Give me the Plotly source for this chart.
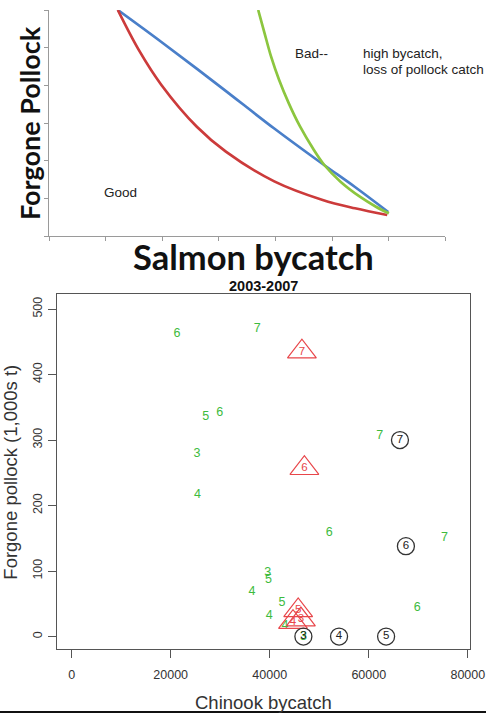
import plotly.graph_objects as go

# ---------------- data ----------------
# Conceptual trade-off curves (top panel), in arbitrary axis units
blue_x = [1.214, 1.984, 3.010, 3.978, 4.833, 5.404, 5.991]
blue_y = [6.0, 5.15, 3.98, 2.854, 1.911, 1.301, 0.637]

red_x = [1.214, 1.584, 1.984, 2.610, 3.123, 3.978, 4.833, 5.404, 5.974]
red_y = [6.0, 4.94, 4.01, 2.90, 2.24, 1.45, 0.956, 0.735, 0.557]

green_x = [3.694, 3.807, 3.922, 4.064, 4.235, 4.435, 4.662, 4.862, 5.148, 5.490, 5.774, 6.003]
green_y = [6.0, 5.381, 4.760, 4.142, 3.522, 2.902, 2.323, 1.885, 1.442, 1.044, 0.778, 0.603]

# 2003-2007 scenarios (bottom panel)
pts_green_x = [21300, 37500, 27100, 29900, 25300, 25400, 62200, 52000, 75300,
               39600, 39750, 36400, 42500, 39900, 69800, 43100, 46800]
pts_green_y = [462, 469, 336, 342, 279, 216, 307, 159, 151,
               97, 87, 68, 51, 32, 44, 17, 0]
pts_green_lab = ["6", "7", "5", "6", "3", "4", "7", "6", "7",
                 "3", "5", "4", "5", "4", "6", "4", "3"]

pts_red_x = [46500, 47000, 45750, 44700, 46300]
pts_red_y = [435, 257, 40, 22, 26]
pts_red_lab = ["7", "6", "5", "4", "3"]

pts_black_x = [66300, 67500, 46800, 54000, 63500]
pts_black_y = [300, 138, 0, 0, 0]
pts_black_lab = ["7", "6", "3", "4", "5"]

x_ticks = [0, 20000, 40000, 60000, 80000]
x_tick_text = ["0", "20000", "40000", "60000", "80000"]
y_ticks = [0, 100, 200, 300, 400, 500]
y_tick_text = ["0", "100", "200", "300", "400", "500"]

# ---------------- figure ----------------
W, H = 502, 713
FONT = "Liberation Sans, Arial, sans-serif"
BOLD = "Lato, Carlito, Calibri, sans-serif"

fig = go.Figure()

line_w = 2.7
fig.add_trace(go.Scatter(x=blue_x, y=blue_y, mode="lines", line=dict(color="#4a7fc9", width=line_w, shape="spline"),
                         xaxis="x", yaxis="y", hoverinfo="skip"))
fig.add_trace(go.Scatter(x=red_x, y=red_y, mode="lines", line=dict(color="#cc3b3b", width=line_w, shape="spline"),
                         xaxis="x", yaxis="y", hoverinfo="skip"))
fig.add_trace(go.Scatter(x=green_x, y=green_y, mode="lines", line=dict(color="#8cc63f", width=line_w, shape="spline"),
                         xaxis="x", yaxis="y", hoverinfo="skip"))

fig.add_trace(go.Scatter(x=pts_green_x, y=pts_green_y, mode="text", text=pts_green_lab,
                         textfont=dict(family=FONT, size=12.5, color="#3dbb3d"),
                         xaxis="x2", yaxis="y2", cliponaxis=False, hoverinfo="skip"))
fig.add_trace(go.Scatter(x=pts_red_x, y=pts_red_y, mode="markers+text", text=pts_red_lab,
                         marker=dict(symbol="triangle-up-open", size=25, color="#e8464a", line=dict(width=1.2)),
                         textfont=dict(family=FONT, size=11.5, color="#e8464a"),
                         xaxis="x2", yaxis="y2", cliponaxis=False, hoverinfo="skip"))
fig.add_trace(go.Scatter(x=pts_black_x, y=pts_black_y, mode="markers+text", text=pts_black_lab,
                         marker=dict(symbol="circle-open", size=17, color="#333333", line=dict(width=1.3)),
                         textfont=dict(family=FONT, size=11.5, color="#222222"),
                         xaxis="x2", yaxis="y2", cliponaxis=False, hoverinfo="skip"))

concept_axis = dict(showline=True, linecolor="#9a9a9a", linewidth=1, ticks="outside", ticklen=4,
                    tickcolor="#9a9a9a", tickwidth=1, showticklabels=False, showgrid=False, zeroline=False,
                    fixedrange=True)
box_axis = dict(showline=True, mirror=True, linecolor="#555555", linewidth=1.3, ticks="outside", ticklen=8,
                tickcolor="#555555", tickwidth=1.3, showgrid=False, zeroline=False,
                tickfont=dict(family=FONT, size=12.5, color="#333333"), fixedrange=True)

fig.update_layout(
    width=W, height=H,
    margin=dict(l=0, r=0, t=0, b=0),
    paper_bgcolor="white", plot_bgcolor="white",
    showlegend=False,
    xaxis=dict(concept_axis, domain=[50.7 / W, 460 / W], range=[0, 7], tickvals=list(range(8)), anchor="y"),
    yaxis=dict(concept_axis, domain=[1 - 236 / H, 1 - 10 / H], range=[0, 6], tickvals=list(range(7)), anchor="x"),
    xaxis2=dict(box_axis, domain=[59 / W, 485 / W], range=[-2930, 80350], tickvals=x_ticks,
                ticktext=x_tick_text, anchor="y2", ticklabelstandoff=6),
    yaxis2=dict(box_axis, domain=[1 - 649 / H, 1 - 294 / H], range=[-19, 523], tickvals=y_ticks,
                ticktext=y_tick_text, tickangle=-90, anchor="x2", ticklabelstandoff=1),
)


def label(x, y, text, size, family=FONT, color="#222", xref="paper", yref="paper",
          xanchor="center", angle=0):
    return dict(x=x, y=y, xref=xref, yref=yref, text=text, showarrow=False, textangle=angle,
                xanchor=xanchor, yanchor="middle", font=dict(family=family, size=size, color=color))


ann = [
    # labels inside the concept panel
    label(1.27, 1.15, "Good", 13.5, xref="x", yref="y"),
    label(4.643, 4.85, "Bad--", 13.5, xref="x", yref="y"),
    label(5.507, 4.85, "high bycatch,", 13.5, xref="x", yref="y", xanchor="left"),
    label(5.507, 4.425, "loss of pollock catch", 13.5, xref="x", yref="y", xanchor="left"),
    # concept panel axis titles
    label(31 / W, 1 - 123 / H, "<b>Forgone Pollock</b>", 27, family=BOLD, color="#111", angle=-90),
    label(262 / W, 1 - 256 / H, "<b>Salmon bycatch</b>", 34.5, family=BOLD, color="#111"),
    # scatter panel titles
    label(271.7 / W, 1 - 286 / H, "<b>2003-2007</b>", 14.5, color="#111"),
    label(271.7 / W, 1 - 702 / H, "Chinook bycatch", 18.5, color="#333"),
    label(10.5 / W, 1 - 472.5 / H, "Forgone pollock (1,000s t)", 18.5, color="#333", angle=-90),
]
fig.update_layout(annotations=ann)

# dark rule along the bottom edge
fig.add_shape(type="rect", xref="paper", yref="paper", x0=0, x1=1, y0=0, y1=2 / H,
              fillcolor="#111", line=dict(width=0), layer="above")

fig.write_html("out.html")
